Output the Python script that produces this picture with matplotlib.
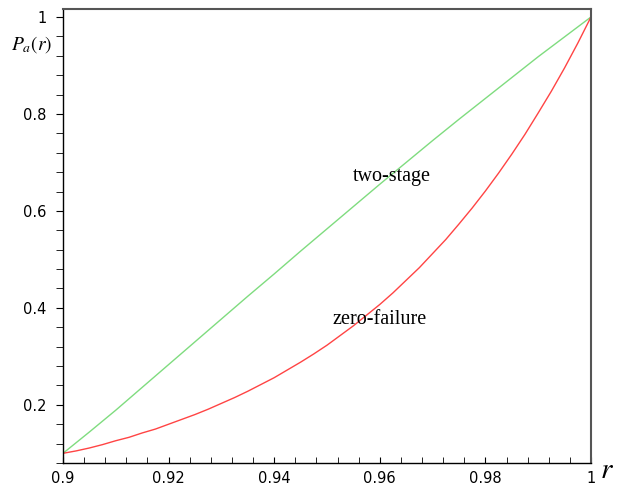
import matplotlib.pyplot as plt
from matplotlib.ticker import MultipleLocator

plt.rcParams['mathtext.fontset'] = 'stix'

# values
r_two = [0.900, 0.905, 0.910, 0.915, 0.920, 0.925, 0.930, 0.935, 0.940, 0.945, 0.950,
         0.955, 0.960, 0.965, 0.970, 0.975, 0.980, 0.985, 0.990, 0.995, 1.000]
two_stage = [0.100, 0.144, 0.189, 0.236, 0.283, 0.330, 0.377, 0.424, 0.470, 0.517, 0.563,
             0.609, 0.655, 0.700, 0.745, 0.789, 0.832, 0.875, 0.918, 0.959, 1.000]

r_zero = [0.900, 0.9025, 0.905, 0.9075, 0.910, 0.9125, 0.915, 0.9175, 0.920, 0.9225,
          0.925, 0.9275, 0.930, 0.9325, 0.935, 0.9375, 0.940, 0.9425, 0.945, 0.9475,
          0.950, 0.9525, 0.955, 0.9575, 0.960, 0.9625, 0.965, 0.9675, 0.970, 0.9725,
          0.975, 0.9775, 0.980, 0.9825, 0.985, 0.9875, 0.990, 0.9925, 0.995, 0.9975, 1.000]
zero_failure = [0.100, 0.105, 0.111, 0.118, 0.126, 0.133, 0.142, 0.150, 0.160, 0.170,
                0.180, 0.191, 0.203, 0.215, 0.228, 0.242, 0.256, 0.272, 0.288, 0.305,
                0.323, 0.343, 0.363, 0.385, 0.407, 0.431, 0.457, 0.483, 0.512, 0.541,
                0.573, 0.606, 0.641, 0.678, 0.717, 0.758, 0.802, 0.847, 0.895, 0.946, 1.000]

fig = plt.figure(figsize=(6.2, 4.88), dpi=100)
ax = fig.add_axes([0.1016, 0.0512, 0.8516, 0.9304])

ax.plot(r_two, two_stage, color='#7fdc7f', lw=1.0)
ax.plot(r_zero, zero_failure, color='#ff4444', lw=1.0)

ax.set_xlim(0.9, 1.0)
ax.set_ylim(0.08, 1.0165)

ax.xaxis.set_minor_locator(MultipleLocator(0.004))
ax.yaxis.set_minor_locator(MultipleLocator(0.04))
ax.set_xticks([0.9, 0.92, 0.94, 0.96, 0.98, 1.0])
ax.set_xticklabels(['0.9', '0.92', '0.94', '0.96', '0.98', '1'])
ax.set_yticks([0.2, 0.4, 0.6, 0.8, 1.0])
ax.set_yticklabels(['0.2', '0.4', '0.6', '0.8', '1'])

ax.tick_params(axis='x', which='both', direction='in', length=4, pad=6, labelsize=10.5)
ax.tick_params(axis='y', which='both', direction='out', length=5, pad=7, labelsize=10.5)
ax.tick_params(top=False, right=False, which='both')

for s in ['top', 'right']:
    ax.spines[s].set_color('#555555')
    ax.spines[s].set_linewidth(1.5)
for s in ['left', 'bottom']:
    ax.spines[s].set_linewidth(1.0)

ax.text(0.9623, 0.670, 'two-stage', family='Liberation Serif', fontsize=14.5,
        ha='center', va='center')
ax.text(0.9600, 0.377, 'zero-failure', family='Liberation Serif', fontsize=14.5,
        ha='center', va='center')

fig.text(32 / 620, 1 - 45 / 488, '$P_a(r)$', fontsize=14, ha='center', va='center')
fig.text(607 / 620, 1 - 470 / 488, '$r$', fontsize=21, ha='center', va='center')

fig.savefig('out.png', dpi=100)
